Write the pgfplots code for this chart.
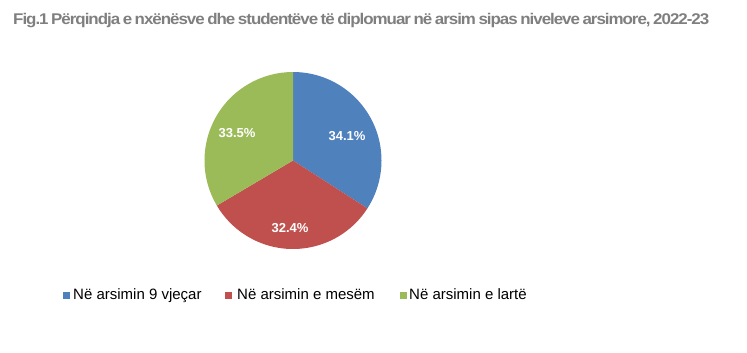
\documentclass[border=0pt]{standalone}
\usepackage{pgfplots}
\pgfplotsset{compat=1.18}
\usepackage{pgfplotstable}
\usepackage{graphicx}
\usepackage{fontspec}
\setmainfont{Liberation Sans}
\newfontfamily\titlefont[LetterSpace=-6.0,WordSpace=0.7]{Liberation Sans}
\definecolor{cA}{HTML}{4F81BD}
\definecolor{cB}{HTML}{C0504D}
\definecolor{cC}{HTML}{9BBB59}
\definecolor{titlegray}{HTML}{7F7F7F}
\pgfplotstableread{
label value
A 34.1
B 32.4
C 33.5
}\piedata
\pgfplotstablegetelem{0}{value}\of\piedata \let\vA\pgfplotsretval
\pgfplotstablegetelem{1}{value}\of\piedata \let\vB\pgfplotsretval
\pgfplotstablegetelem{2}{value}\of\piedata \let\vC\pgfplotsretval
\pgfmathsetmacro\angA{90-3.6*\vA}
\pgfmathsetmacro\angB{\angA-3.6*\vB}
\pgfmathsetmacro\angC{\angB-3.6*\vC}
\def\rad{88.5}
\begin{document}
\begin{tikzpicture}
\begin{axis}[scale only axis, width=747bp, height=353bp,
  xmin=0, xmax=747, ymin=0, ymax=353, hide axis, clip=false]
\path (axis cs:0,0) rectangle (axis cs:747,353);
\fill[cA] (axis cs:293,192.5) -- ++(90:\rad bp) arc[start angle=90, end angle=\angA, radius=\rad bp] -- cycle;
\fill[cB] (axis cs:293,192.5) -- ++(\angA:\rad bp) arc[start angle=\angA, end angle=\angB, radius=\rad bp] -- cycle;
\fill[cC] (axis cs:293,192.5) -- ++(\angB:\rad bp) arc[start angle=\angB, end angle=\angC, radius=\rad bp] -- cycle;
\node[text=white, font=\fontsize{13bp}{15bp}\selectfont\bfseries, inner sep=0] at (axis cs:347,217) {\vA\%};
\node[text=white, font=\fontsize{13bp}{15bp}\selectfont\bfseries, inner sep=0] at (axis cs:290,125) {\vB\%};
\node[text=white, font=\fontsize{13bp}{15bp}\selectfont\bfseries, inner sep=0] at (axis cs:237,220) {\vC\%};
% title
\node[anchor=base west, inner sep=0, text=titlegray] at (axis cs:13,328)
  {\resizebox{696bp}{\height}{\titlefont\fontsize{15.5bp}{18bp}\selectfont\bfseries Fig.1 Përqindja e nxënësve dhe studentëve të diplomuar në arsim sipas niveleve arsimore, 2022-23}};
% legend
\fill[cA] (axis cs:63,54) rectangle (axis cs:70,61);
\fill[cB] (axis cs:225,54) rectangle (axis cs:232,61);
\fill[cC] (axis cs:400,54) rectangle (axis cs:407,61);
\node[anchor=base west, inner sep=0, font=\fontsize{15bp}{18bp}\selectfont] at (axis cs:73,53) {Në arsimin 9 vjeçar};
\node[anchor=base west, inner sep=0, font=\fontsize{15bp}{18bp}\selectfont] at (axis cs:237,53) {Në arsimin e mesëm};
\node[anchor=base west, inner sep=0, font=\fontsize{15bp}{18bp}\selectfont] at (axis cs:409,53) {Në arsimin e lartë};
\end{axis}
\pgfresetboundingbox
\useasboundingbox (current axis.south west) rectangle (current axis.north east);
\end{tikzpicture}
\end{document}
